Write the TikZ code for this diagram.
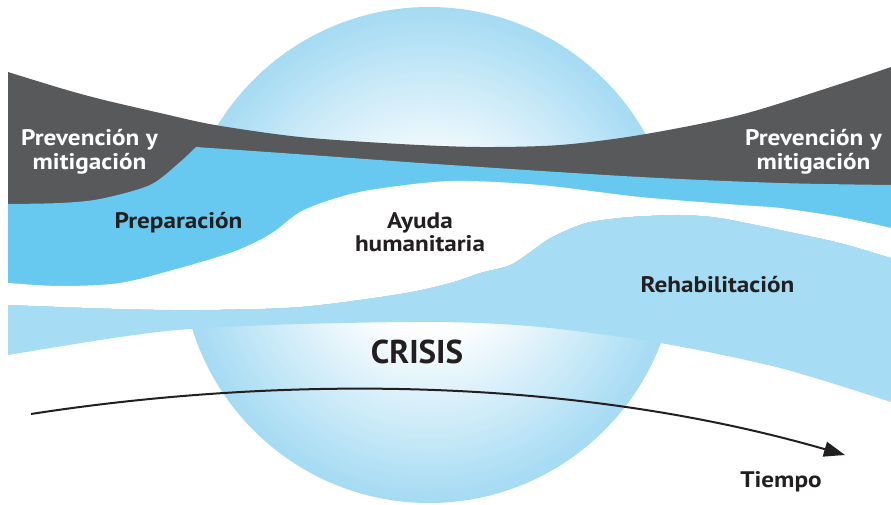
\documentclass[tikz,border=0pt]{standalone}
\usepackage{fontspec}
\setmainfont{PT Sans}[FakeStretch=1.12]
\newfontfamily\crisisfont{PT Sans}
\usetikzlibrary{arrows.meta}
\definecolor{darkband}{RGB}{88,89,91}
\definecolor{prepblue}{RGB}{103,201,240}
\definecolor{rehabblue}{RGB}{167,221,244}
\definecolor{sphblue}{RGB}{165,219,243}
\definecolor{txt}{RGB}{35,31,32}
\begin{document}
\begin{tikzpicture}[x=1pt,y=-1pt,
  lbl/.style={font=\bfseries\fontsize{22.5}{26}\selectfont, text=txt, anchor=base, inner sep=0pt},
  wlbl/.style={lbl, text=white}]
\useasboundingbox (0,0) rectangle (891,505);
% sphere: radial gradient built from concentric discs
\foreach \i in {0,...,50}{
  \pgfmathsetmacro{\rr}{248-\i*3.4}
  \pgfmathsetmacro{\pc}{100-\i*2}
  \fill[sphblue!\pc!white] (429,255) circle[radius=\rr];
}
% dark band: top edge E1, bottom down to E4
\fill[darkband] plot[smooth] coordinates {(8,72) (60,88) (100,99) (160,113) (215,125) (300,137) (400,144) (480,147) (560,145) (640,135) (740,115) (840,84) (891,67)}
  -- plot[smooth] coordinates {(891,258) (840,243) (780,230) (720,218) (680,215) (630,217) (590,222) (567,230) (547,240) (533,250) (510,265) (480,273) (450,283) (400,294) (300,307) (200,310) (120,309) (8,305)} -- cycle;
% preparation band: top edge E2, bottom down to E4
\fill[prepblue] plot[smooth] coordinates {(8,204) (60,203) (100,199) (150,185) (180,162) (196,147)}
  -- plot[smooth] coordinates {(196,147) (310,155) (450,165) (640,177) (780,183) (891,185)}
  -- plot[smooth] coordinates {(891,258) (840,243) (780,230) (720,218) (680,215) (630,217) (590,222) (567,230) (547,240) (533,250) (510,265) (480,273) (450,283) (400,294) (300,307) (200,310) (120,309) (8,305)} -- cycle;
% humanitarian aid (white): top edge E3, bottom E4
\fill[white] plot[smooth] coordinates {(8,283) (60,286) (120,283) (180,268) (230,253) (260,240) (278,229)}
  -- plot[smooth] coordinates {(278,229) (300,212) (330,200) (370,190) (450,181) (540,185) (640,197) (740,205) (780,208) (840,217) (891,228)}
  -- plot[smooth] coordinates {(891,258) (840,243) (780,230) (720,218) (680,215) (630,217) (590,222) (567,230) (547,240) (533,250) (510,265) (480,273) (450,283) (400,294) (300,307) (200,310) (120,309) (8,305)} -- cycle;
% rehabilitation band: top E4, bottom E5
\fill[rehabblue] plot[smooth] coordinates {(8,305) (120,309) (200,310) (300,307) (400,294) (450,283) (480,273) (510,265) (533,250) (547,240) (567,230) (590,222) (630,217) (680,215) (720,218) (780,230) (840,243) (891,258)}
  -- plot[smooth] coordinates {(891,402) (780,368) (660,343) (540,327) (440,322) (300,324) (190,329) (120,337) (8,355)} -- cycle;
% labels
\node[wlbl] (prevL1) at (89.5,146) {Prevención y};
\node[wlbl] (prevL2) at (89.5,170) {mitigación};
\node[wlbl] (prevR1) at (813.5,146) {Prevención y};
\node[wlbl] (prevR2) at (813.5,170) {mitigación};
\node[lbl] (prep) at (178.5,228) {Preparación};
\node[lbl] (ayuda1) at (420,228) {Ayuda};
\node[lbl] (ayuda2) at (420,251) {humanitaria};
\node[lbl] (rehab) at (717.5,292) {Rehabilitación};
\node[lbl, font=\crisisfont\bfseries\fontsize{33}{38}\selectfont] (crisis) at (417,363) {CRISIS};
\node[lbl] (tiempo) at (781,487) {Tiempo};
% time arrow
\coordinate (t0) at (31,414);
\coordinate (t1) at (845,455);
\draw[line width=2pt, txt, -{Triangle[length=21pt,width=15pt]}] (t0) .. controls (250,380) and (550,370) .. (t1);
\end{tikzpicture}
\end{document}
